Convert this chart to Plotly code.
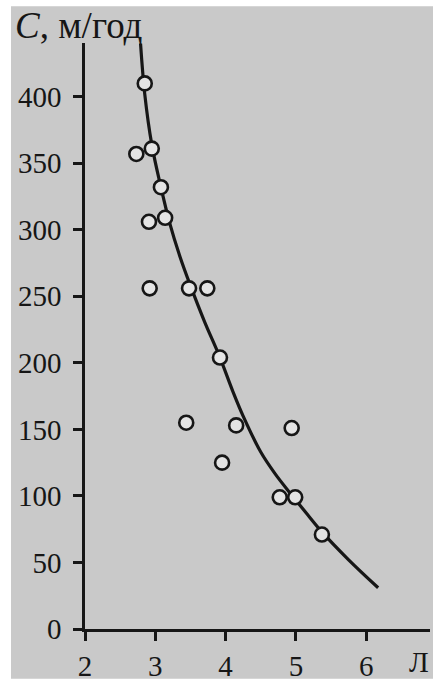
import plotly.graph_objects as go

# Observed data points (Л, C in м/год)
pts_x = [2.85, 2.73, 2.95, 3.08, 2.91, 3.14, 2.92, 3.48, 3.74, 3.92, 3.44, 4.15, 3.95, 4.94, 4.77, 4.99, 5.37]
pts_y = [410, 357, 361, 332, 306, 309, 256, 256, 256, 204, 155, 153, 125, 151, 99, 99, 71]

# Fitted curve
curve_x = [2.79, 2.85, 2.95, 3.08, 3.20, 3.35, 3.50, 3.70, 3.92, 4.10, 4.25, 4.50, 4.70, 4.92, 5.15, 5.37, 5.75, 6.17]
curve_y = [440, 402, 364, 332, 306, 280, 258, 231, 204, 179, 160, 133, 117, 102, 87, 73, 52, 31]

x_ticks = [2, 3, 4, 5, 6]
y_ticks = [0, 50, 100, 150, 200, 250, 300, 350, 400]

W, H = 433, 685
ML, MR, MT, MB = 85, 3, 43, 53
pw, ph = W - ML - MR, H - MT - MB

def px_to_paper_x(px):
    return (px - ML) / pw

def px_to_paper_y(py):
    return (H - MB - py) / ph

FONT = "Liberation Serif"
INK = "#161616"
BG = "#c9c9c9"

fig = go.Figure()
fig.add_trace(go.Scatter(x=curve_x, y=curve_y, mode="lines",
                         line=dict(color=INK, width=3.2, shape="spline", smoothing=1.0),
                         hoverinfo="skip", showlegend=False))
fig.add_trace(go.Scatter(x=pts_x, y=pts_y, mode="markers",
                         marker=dict(size=14, color="#e4e4e4",
                                     line=dict(color=INK, width=2.6)),
                         showlegend=False))

fig.update_layout(
    width=W, height=H,
    margin=dict(l=ML, r=MR, t=MT, b=MB),
    paper_bgcolor="white", plot_bgcolor=BG,
    font=dict(family=FONT, color=INK, size=28),
    shapes=[dict(type="rect", xref="paper", yref="paper", layer="below",
                 x0=px_to_paper_x(11), x1=px_to_paper_x(433),
                 y0=px_to_paper_y(682), y1=px_to_paper_y(6),
                 fillcolor=BG, line=dict(width=0))],
    annotations=[
        dict(text="<i>C</i>, м/год", xref="paper", yref="paper",
             x=px_to_paper_x(13), y=px_to_paper_y(3), xanchor="left", yanchor="top",
             showarrow=False, font=dict(family=FONT, size=37, color=INK)),
        dict(text="Л", xref="paper", yref="paper",
             x=px_to_paper_x(431), y=px_to_paper_y(647), xanchor="right", yanchor="top",
             showarrow=False, font=dict(family=FONT, size=29, color=INK)),
    ],
)
fig.update_xaxes(range=[2, 2 + pw / 70.3], tickvals=x_ticks, ticktext=[str(v) for v in x_ticks],
                 showgrid=False, zeroline=False, showline=True, linecolor=INK, linewidth=2.5,
                 ticks="outside", ticklen=9, tickwidth=2.5, tickcolor=INK,
                 tickfont=dict(family=FONT, size=29, color=INK))
fig.update_yaxes(range=[0, ph / 1.3375], tickvals=y_ticks, ticktext=[str(v) for v in y_ticks],
                 showgrid=False, zeroline=False, showline=True, linecolor=INK, linewidth=2.5,
                 ticks="outside", ticklen=9, tickwidth=2.5, tickcolor=INK,
                 ticklabelstandoff=6,
                 tickfont=dict(family=FONT, size=29, color=INK))

fig.write_html("out.html", config={"displayModeBar": False},
               post_script="document.body.style.margin='0';document.body.style.overflow='hidden';")
